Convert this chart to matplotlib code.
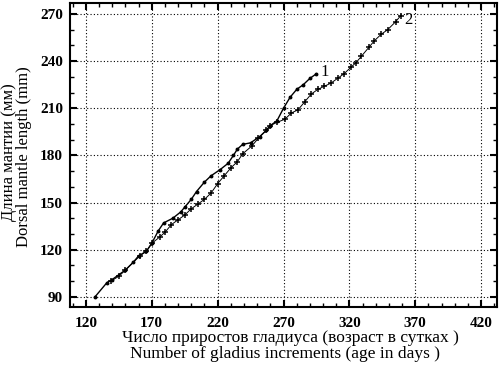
import matplotlib
matplotlib.use("Agg")
import matplotlib.pyplot as plt
from matplotlib.ticker import MultipleLocator

# Data
line1_x = [127, 136, 140, 150, 156, 160, 166, 170, 175, 179, 186, 192, 195, 200, 204,
           210, 215, 222, 228, 232, 235, 239, 245, 252, 257, 260, 265, 270, 275, 280,
           285, 290, 295]
line1_y = [90, 99, 101, 107, 112, 116, 119, 124, 132, 137, 140, 144, 147, 152, 157,
           163, 167, 171, 175, 180, 184, 187, 188, 192, 196, 199, 202, 210, 217, 222,
           225, 229, 232]

line2_x = [139, 145, 150, 161, 166, 170, 176, 180, 185, 190, 195, 200, 205, 210, 215,
           220, 225, 230, 235, 239, 246, 251, 257, 260, 265, 271, 276, 281, 286, 291,
           296, 301, 306, 311, 316, 321, 325, 329, 335, 339, 344, 349, 355, 359]
line2_y = [100, 103, 107, 116, 119, 124, 128, 131, 136, 139, 142, 146, 149, 152, 156,
           162, 167, 172, 176, 181, 186, 191, 196, 199, 201, 203, 207, 209, 214, 219,
           222, 224, 226, 229, 232, 236, 239, 243, 249, 253, 257, 260, 265, 269]

x_ticks = [120, 170, 220, 270, 320, 370, 420]
y_ticks = [90, 120, 150, 180, 210, 240, 270]

xlabel_ru = "Число приростов гладиуса (возраст в сутках )"
xlabel_en = "Number of gladius increments (age in days )"
ylabel_ru = "Длина мантии (мм)"
ylabel_en = "Dorsal mantle length (mm)"

plt.rcParams['font.family'] = ['Liberation Serif', 'DejaVu Serif']

W, H = 499, 369
fig = plt.figure(figsize=(W/100, H/100), dpi=100)
ax = fig.add_axes([70/W, 1-307/H, (497-70)/W, (307-3)/H])

ax.plot(line1_x, line1_y, '-', color='black', lw=1.0, marker='o', ms=1.8)
ax.plot(line2_x, line2_y, '-', color='black', lw=0.7, marker='+', ms=5, mew=1.1)

ax.text(line1_x[-1] + 3, line1_y[-1] + 1, "1", fontsize=12, va='center', ha='left')
ax.text(line2_x[-1] + 3, line2_y[-1] - 3, "2", fontsize=12, va='center', ha='left')

ax.set_xlim(108, 432)
ax.set_ylim(83.5, 277)
ax.set_xticks(x_ticks)
ax.set_yticks(y_ticks)
ax.xaxis.set_minor_locator(MultipleLocator(10))
ax.yaxis.set_minor_locator(MultipleLocator(10))
ax.tick_params(which='both', direction='in', top=True, right=True, color='black')
ax.tick_params(which='major', length=5, width=1.5, labelsize=11)
ax.tick_params(axis='x', which='major', pad=7)
ax.tick_params(axis='y', which='major', pad=5)
ax.tick_params(which='minor', length=3, width=1)
for lab in ax.get_xticklabels() + ax.get_yticklabels():
    lab.set_fontweight('bold')

ax.grid(True, which='major', linestyle=(0, (1, 2)), color='black', lw=0.8)
for s in ax.spines.values():
    s.set_linewidth(1.5)

fig.text(290/W, 1-338/H, xlabel_ru, ha='center', va='center', fontsize=12.5)
fig.text(285/W, 1-354/H, xlabel_en, ha='center', va='center', fontsize=12.5)
fig.text(9/W, 1-152/H, ylabel_ru, ha='center', va='center', rotation=90, fontsize=12)
fig.text(24/W, 1-157/H, ylabel_en, ha='center', va='center', rotation=90, fontsize=12)

fig.savefig("out.png", dpi=100)
